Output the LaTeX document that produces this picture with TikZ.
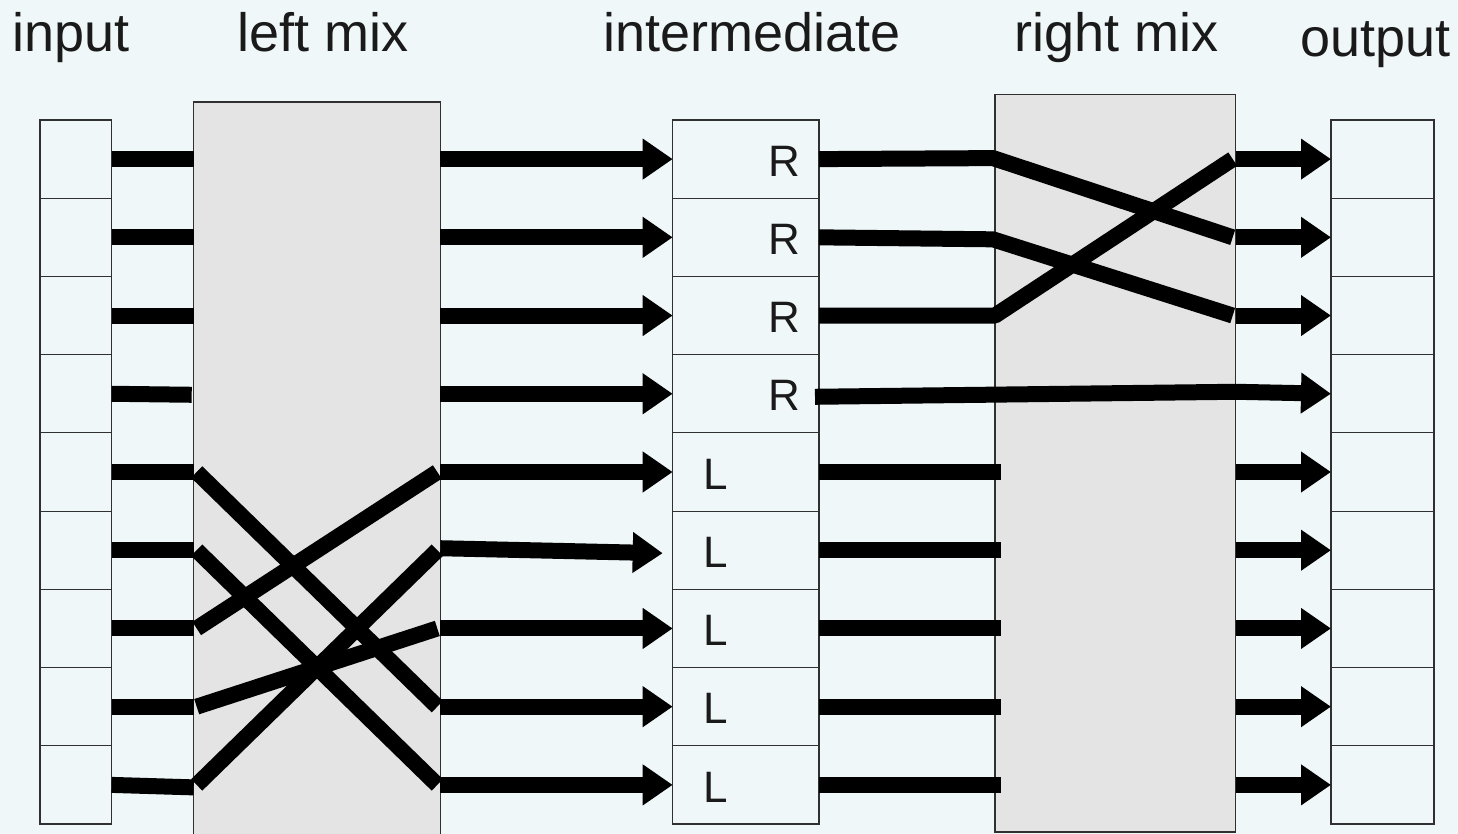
\documentclass[tikz,border=0pt]{standalone}
\usepackage{fontspec}
\setmainfont{Liberation Sans}
\usetikzlibrary{arrows.meta,calc}
\definecolor{bgc}{HTML}{EFF7F9}
\definecolor{mixc}{HTML}{E4E4E4}
\definecolor{edgec}{HTML}{303030}
\definecolor{txtc}{HTML}{1A1A1A}
\tikzset{
  cell/.style={draw=edgec, line width=1.2pt, fill=bgc, minimum width=#1,
    minimum height=78.22pt, inner sep=0pt, outer sep=0pt},
  mixbox/.style={draw=edgec, line width=1.2pt, fill=mixc, inner sep=0pt,
    outer sep=0pt, anchor=north west},
  wire/.style={line width=16pt, line cap=butt, line join=bevel},
  arr/.style={wire, -{Triangle[length=30pt,width=39pt]}},
  title/.style={font=\fontsize{54}{60}\selectfont, anchor=base west,
    inner sep=0pt, text=txtc},
  tag/.style={font=\fontsize{44}{50}\selectfont, inner sep=0pt, text=txtc}
}
\begin{document}
\begin{tikzpicture}[x=1pt,y=-1pt]
\fill[bgc] (0,0) rectangle (1458,834);
\useasboundingbox (0,0) rectangle (1458,834);
% titles
\node[title] (tin) at (12,52) {input};
\node[title] (tlm) at (237,52) {left mix};
\node[title] (tmid) at (603,52) {intermediate};
\node[title] (trm) at (1014,52) {right mix};
\node[title] (tout) at (1300,57) {output};
% mix boxes
\node[mixbox, minimum width=246.6pt, minimum height=760pt] (lm) at (193.7,102) {};
\node[mixbox, minimum width=240.7pt, minimum height=737.3pt] (rm) at (995,94.7) {};
% cells
\foreach \i in {1,...,9} {
  \pgfmathsetmacro{\yy}{120+78.222*(\i-0.5)}
  \node[cell=71.7pt] (in\i) at (75.8,\yy) {};
  \node[cell=146.3pt] (mid\i) at (745.85,\yy) {};
  \node[cell=103pt] (out\i) at (1382.5,\yy) {};
  \coordinate (lmL\i) at (lm.west |- in\i);
  \coordinate (lmR\i) at (lm.east |- in\i);
  \coordinate (rmL\i) at (rm.west |- in\i);
  \coordinate (rmR\i) at (rm.east |- in\i);
}
% cell tags
\foreach \i in {1,...,4} { \node[tag] (tagR\i) at ($(mid\i)+(39,2)$) {R}; }
\foreach \i in {5,...,9} { \node[tag] (tagL\i) at ($(mid\i)+(-30,2)$) {L}; }
% input -> left mix
\foreach \i in {1,2,3,5,6,7,8} { \draw[wire] (in\i.east) -- (lmL\i); }
\draw[wire] (in4.east) -- ($(lmL4)+(-2,1)$);
\draw[wire] (in9.east) -- ($(lmL9)+(0,2.5)$);
% left mix crossings
\foreach \a/\b in {5/8,6/9,7/5,8/7,9/6} {
  \draw[wire] ($(lmL\a)+(3,0)$) -- ($(lmR\b)+(-3,0)$);
}
% left mix -> intermediate
\foreach \i in {1,2,3,4,5,7,8,9} { \draw[arr] (lmR\i) -- (mid\i.west); }
\draw[arr] ($(lmR6)+(0,-2)$) -- ($(mid6.west)+(-10,3)$);
% intermediate -> right mix
\draw[wire] (mid1.east) -- ($(rmL1)+(-2,-1)$) -- ($(rmR2)+(-3,0)$);
\draw[wire] (mid2.east) -- ($(rmL2)+(-2,2)$) -- ($(rmR3)+(-3,0)$);
\draw[wire] (mid3.east) -- ($(rmL3)+(0,0)$) -- ($(rmR1)+(-3,0)$);
\draw[arr] ($(mid4.east)+(-4,3)$) -- ($(rmR4)+(0,-2)$) -- (out4.west);
\foreach \i in {5,...,9} { \draw[wire] (mid\i.east) -- ($(rmL\i)+(6,0)$); }
% right mix -> output
\foreach \i in {1,2,3,5,6,7,8,9} { \draw[arr] (rmR\i) -- (out\i.west); }
\end{tikzpicture}
\end{document}
